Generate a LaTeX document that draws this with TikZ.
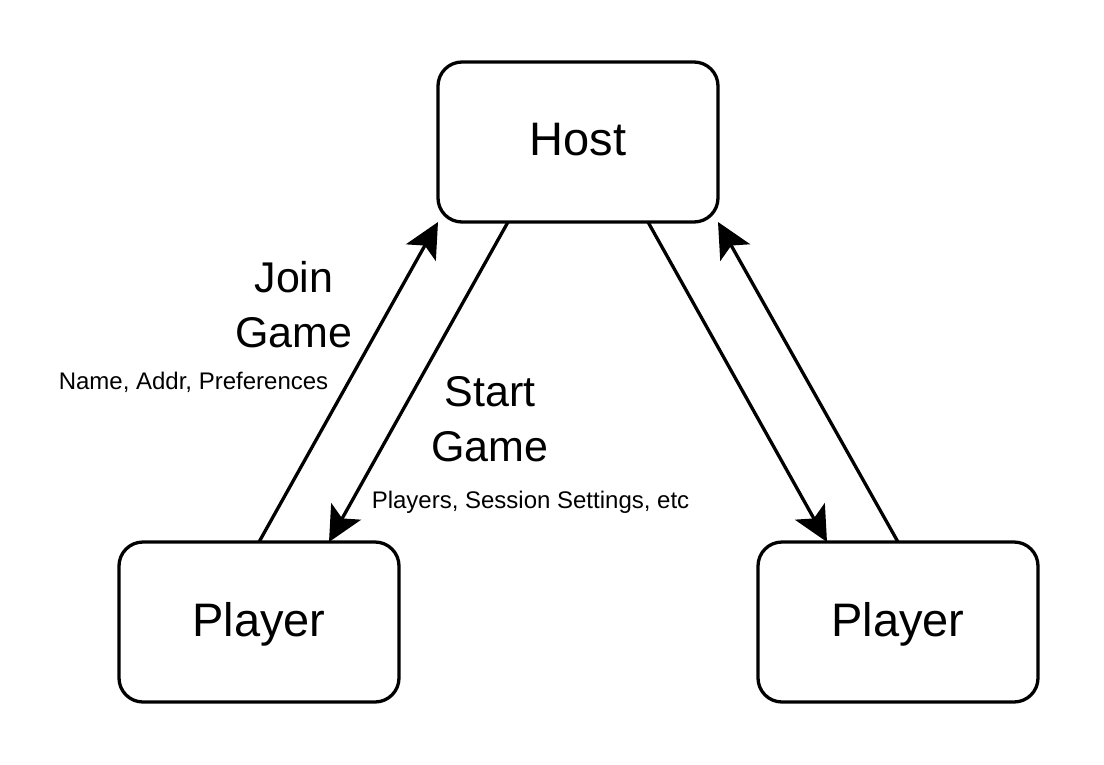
\documentclass[tikz,border=0pt]{standalone}
\usepackage{fontspec}
\setmainfont{Liberation Sans}
\usetikzlibrary{arrows.meta,calc}
\tikzset{
  box/.style={draw=black, line width=3.3pt, rounded corners=24pt, minimum width=280pt, minimum height=160pt,
    outer sep=0pt, inner sep=0pt, text depth=5pt, font=\fontsize{47}{56}\selectfont},
  flow/.style={draw=black, line width=3.3pt, -{Stealth[length=35pt, width=34pt, inset=8pt]}},
  biglabel/.style={align=center, inner sep=0pt, font=\fontsize{43}{55}\selectfont},
  smalllabel/.style={inner sep=0pt, anchor=base, font=\fontsize{24}{28}\selectfont}
}
\begin{document}
\begin{tikzpicture}[x=1pt, y=-1pt]
\useasboundingbox (0,0) rectangle (1104,764);
\fill[white] (0,0) rectangle (1104,764);
\node[box] (host) at (578,142) {Host};
\node[box] (pl) at (259,622) {Player};
\node[box] (pr) at (898,622) {Player};
\coordinate (startA) at ($(host.south west)+(70,0)$);
\coordinate (startB) at ($(pl.north west)+(210,0)$);
\coordinate (rdA) at ($(host.south east)+(-70,0)$);
\coordinate (rdB) at ($(pr.north west)+(69,0)$);
\draw[flow] (pl.north) -- (host.south west);
\draw[flow] (startA) -- (startB);
\draw[flow] (rdA) -- (rdB);
\draw[flow] (pr.north) -- (host.south east);
\node[biglabel] (join) at (294,304.5) {Join\\Game};
\node[smalllabel] (joindata) at (193.5,389) {Name, Addr, Preferences};
\node[biglabel] (start) at (490,419.5) {Start\\Game};
\node[smalllabel] (startdata) at (530.5,508) {Players, Session Settings, etc};
\end{tikzpicture}
\end{document}
